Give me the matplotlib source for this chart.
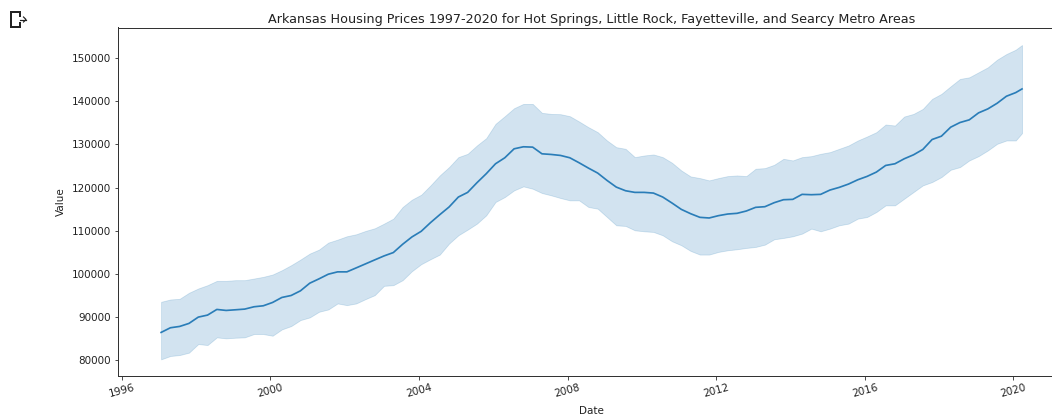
import numpy as np
import matplotlib
matplotlib.use("Agg")
import matplotlib.pyplot as plt
from matplotlib.lines import Line2D

TITLE = "Arkansas Housing Prices 1997-2020 for Hot Springs, Little Rock, Fayetteville, and Searcy Metro Areas"
years = list(np.arange(1997.06, 2020.07, 0.25)) + [2020.23]
mean_value = [86400, 87480, 87790, 88490, 89950, 90420, 91730, 91500, 91650, 91810, 92350, 92580,
              93350, 94510, 94970, 96050, 97820, 98830, 99910, 100450, 100450, 101370, 102300, 103230,
              104150, 104930, 106850, 108550, 109860, 111870, 113720, 115500, 117810, 118890, 121130, 123220,
              125530, 126920, 129000, 129470, 129390, 127840, 127690, 127460, 126920, 125760, 124530,
              123370, 121670, 120120, 119270, 118890, 118890, 118730, 117810, 116420, 114950, 113950, 113100,
              112950, 113490, 113870, 114030, 114570, 115420, 115570, 116500, 117190, 117270, 118430, 118350,
              118430, 119430, 120050, 120820, 121820, 122600, 123600, 125140, 125530, 126690, 127610, 128850,
              131160, 131930, 134020, 135100, 135720, 137340, 138260, 139570, 141200, 142040, 142890]
upper_value = [93500, 94040, 94200, 95590, 96590, 97360, 98360, 98360, 98520, 98520, 98900, 99290,
               99830, 100830, 102000, 103300, 104690, 105620, 107240, 107930, 108710, 109170, 109940, 110560,
               111640, 112800, 115500, 117200, 118350, 120510, 122830, 124760, 127070, 127840, 129780, 131470,
               134790, 136570, 138420, 139420, 139420, 137340, 137100, 137030, 136570, 135330, 134020,
               132860, 130930, 129380, 129000, 127070, 127450, 127690, 127070, 125760, 123980, 122590, 122210,
               121670, 122210, 122670, 122820, 122670, 124370, 124520, 125290, 126680, 126300, 127070, 127300,
               127840, 128230, 129000, 129770, 130930, 131860, 132860, 134640, 134400, 136490, 137100, 138260,
               140580, 141740, 143510, 145210, 145590, 146750, 147910, 149680, 150990, 152000, 153080]
lower_value = [80150, 80930, 81150, 81700, 83700, 83470, 85250, 85020, 85170, 85250, 86020, 86020,
               85630, 87100, 87870, 89260, 89880, 91190, 91730, 93120, 92730, 93120, 94120, 95050,
               97210, 97360, 98520, 100610, 102230, 103380, 104460, 107010, 108940, 110250, 111640, 113570,
               116660, 117810, 119360, 120280, 119740, 118740, 118200, 117580, 117040, 117040, 115500,
               115110, 113180, 111250, 111100, 110090, 109860, 109710, 108930, 107550, 106620, 105310, 104460,
               104460, 105080, 105460, 105690, 106000, 106230, 106770, 108010, 108320, 108700, 109320, 110480,
               109860, 110480, 111250, 111640, 112800, 113180, 114340, 115880, 115880, 117430, 118970, 120510,
               121290, 122440, 124140, 124760, 126300, 127300, 128620, 130160, 130930, 130930, 132630]
x_ticks = [1996, 2000, 2004, 2008, 2012, 2016, 2020]
y_ticks = [80000, 90000, 100000, 110000, 120000, 130000, 140000, 150000]

W, H = 1052, 416
fig = plt.figure(figsize=(W / 72, H / 72), dpi=72, facecolor="white")
L, R, T, B = 118.0, 1065.5, 27.5, 375.5
ax = fig.add_axes([L / W, 1 - B / H, (R - L) / W, (B - T) / H])
ax.fill_between(years, lower_value, upper_value, color="#1f77b4", alpha=0.2, lw=0.8)
ax.plot(years, mean_value, color="#2a7db8", lw=1.7)
ax.set_xlim(1995.90, 2021.4)
ax.set_ylim(76404, 157146)
ax.set_xticks(x_ticks)
ax.set_xticklabels([str(t) for t in x_ticks], rotation=15)
ax.set_yticks(y_ticks)
ax.tick_params(labelsize=10.4, colors="#222222")
ax.set_title(TITLE, fontsize=12.75, color="#222222", pad=5)
ax.set_xlabel("Date", fontsize=10.4, color="#222222", labelpad=7)
ax.set_ylabel("Value", fontsize=10.4, color="#222222", labelpad=6)
for s in ax.spines.values():
    s.set_color("#333333")
    s.set_linewidth(1.0)

def px(x, y):
    return x / W, 1 - y / H

icon = [[(20, 16), (20, 12), (10.5, 12), (10.5, 26.5), (20, 26.5), (20, 23)],
        [(20, 19.5), (26, 19.5)], [(23.5, 17), (26, 19.5), (23.5, 22)]]
for i, seg in enumerate(icon):
    xs, ys = zip(*[px(*p) for p in seg])
    fig.add_artist(Line2D(xs, ys, transform=fig.transFigure, color="#222222",
                          lw=2.0 if i == 0 else 1.2, solid_joinstyle="miter"))
fig.savefig("out.png", dpi=72)
